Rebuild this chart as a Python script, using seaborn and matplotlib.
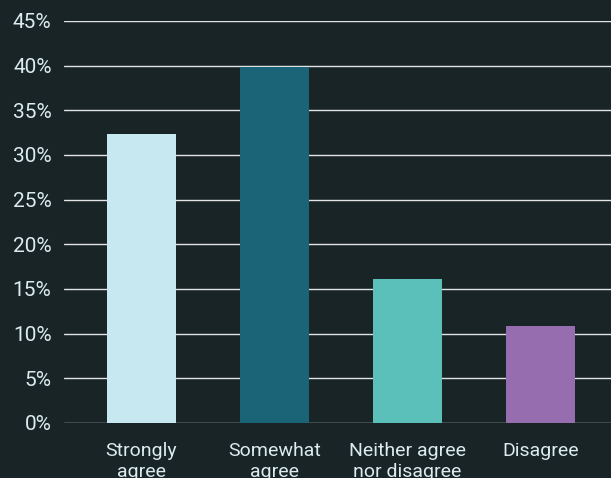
import matplotlib
matplotlib.use("Agg")
import matplotlib.pyplot as plt
import seaborn as sns
import pandas as pd
from matplotlib.ticker import FuncFormatter, MultipleLocator

categories = ["Strongly\nagree", "Somewhat\nagree", "Neither agree\nnor disagree", "Disagree"]
values = [32.4, 39.9, 16.1, 10.9]
colors = ["#c7e8f1", "#1b6478", "#5bbfba", "#966daf"]

BG = "#192426"
TXT = "#dcecee"

sns.set_theme(style="dark")
plt.rcParams["font.family"] = ["Roboto", "DejaVu Sans"]

df = pd.DataFrame({"category": categories, "value": values})

fig = plt.figure(figsize=(6.11, 4.78), dpi=100, facecolor=BG)
ax = fig.add_axes([64 / 611, (478 - 423) / 478, 1 - 64 / 611, (423 - 21) / 478])
ax.set_facecolor(BG)

sns.barplot(data=df, x="category", y="value", hue="category", palette=colors,
            legend=False, width=0.52, ax=ax, saturation=1, linewidth=0,
            edgecolor="none", zorder=3)

ax.set_ylim(0, 45)
ax.set_xlim(-0.58, 3.53)
ax.yaxis.set_major_locator(MultipleLocator(5))
ax.yaxis.set_major_formatter(FuncFormatter(lambda v, p: f"{int(round(v))}%"))
ax.grid(axis="y", color="#e4e4e4", linewidth=1.0, zorder=0)
ax.grid(axis="x", visible=False)
ax.set_axisbelow(True)
for s in ax.spines.values():
    s.set_visible(False)
ax.set_xlabel("")
ax.set_ylabel("")
ax.tick_params(axis="y", length=0, pad=9, labelsize=15, labelcolor=TXT)
ax.tick_params(axis="x", length=0, pad=14, labelsize=14, labelcolor=TXT)

fig.savefig("out.png", dpi=100, facecolor=BG)
